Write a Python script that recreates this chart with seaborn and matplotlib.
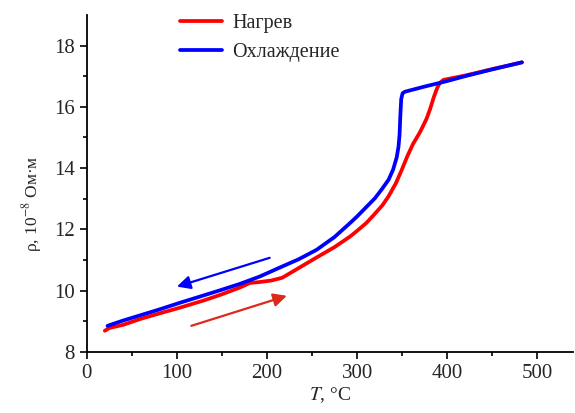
import pandas as pd
import matplotlib
matplotlib.use("Agg")
import matplotlib.pyplot as plt
import seaborn as sns

# heating curve (red)
heat_T = [20, 25, 40, 60, 80, 103, 130, 150, 170, 181, 192, 205, 217, 236, 255, 275,
          292, 300, 310, 318, 328, 335, 343, 349, 356, 362, 370, 377, 381, 385, 389,
          392, 396, 420, 450, 483]
heat_rho = [8.69, 8.78, 8.88, 9.08, 9.25, 9.44, 9.68, 9.88, 10.1, 10.25, 10.28, 10.33,
            10.42, 10.75, 11.08, 11.42, 11.76, 11.95, 12.2, 12.45, 12.78, 13.08, 13.5,
            13.9, 14.4, 14.78, 15.18, 15.6, 15.92, 16.3, 16.62, 16.78, 16.88, 17.02,
            17.23, 17.45]

# cooling curve (blue), from hot to cold
cool_T = [483, 450, 420, 400, 375, 353, 350.5, 349, 348, 347.2, 346, 344, 340, 335,
          328, 320, 310, 300, 292, 275, 255, 235, 214, 192, 170, 150, 125, 103, 80,
          60, 40, 23]
cool_rho = [17.45, 17.22, 17.0, 16.84, 16.66, 16.49, 16.44, 16.25, 15.7, 15.1, 14.7,
            14.35, 13.95, 13.62, 13.33, 13.02, 12.72, 12.42, 12.2, 11.75, 11.33, 11.02,
            10.75, 10.46, 10.22, 10.03, 9.8, 9.6, 9.38, 9.2, 9.02, 8.85]

# direction arrows: (start, tip)
heat_arrow = [(116, 8.85), (222, 9.83)]
cool_arrow = [(203, 11.07), (100, 10.13)]

labels = ["Нагрев", "Охлаждение"]
colors = ["#ff0000", "#0000ff"]

df = pd.concat([
    pd.DataFrame({"T": heat_T, "rho": heat_rho, "mode": labels[0]}),
    pd.DataFrame({"T": cool_T, "rho": cool_rho, "mode": labels[1]}),
], ignore_index=True)

sns.set_style("ticks")
plt.rcParams["font.family"] = ["Liberation Serif", "DejaVu Serif"]
plt.rcParams["mathtext.fontset"] = "stix"

fig = plt.figure(figsize=(5.75, 4.13), dpi=100)
ax = fig.add_axes([0.151, 0.148, 0.846, 0.816])

sns.lineplot(data=df, x="T", y="rho", hue="mode", palette=colors, sort=False,
             estimator=None, linewidth=2.7, ax=ax)
for line in ax.lines:
    line.set_solid_joinstyle("round")
    line.set_solid_capstyle("round")

ax.annotate("", xy=heat_arrow[1], xytext=heat_arrow[0],
            arrowprops=dict(arrowstyle="-|>", color="#dd2a1b", lw=1.6,
                            mutation_scale=20, shrinkA=0, shrinkB=0))
ax.annotate("", xy=cool_arrow[1], xytext=cool_arrow[0],
            arrowprops=dict(arrowstyle="-|>", color="#0000ff", lw=1.6,
                            mutation_scale=20, shrinkA=0, shrinkB=0))

ax.set_xlim(0, 540)
ax.set_ylim(8, 19)
ax.set_xticks([0, 100, 200, 300, 400, 500])
ax.set_xticks([50, 150, 250, 350, 450], minor=True)
ax.set_yticks([8, 10, 12, 14, 16, 18])
ax.set_yticks([9, 11, 13, 15, 17], minor=True)
ax.tick_params(which="major", length=5, width=1.2, labelsize=15, color="black")
ax.tick_params(which="minor", length=3, width=1.2, color="black")
for s in ["left", "bottom"]:
    ax.spines[s].set_linewidth(1.3)
    ax.spines[s].set_color("black")
sns.despine(ax=ax)

ax.set_xlabel("$T$, °C", fontsize=14, labelpad=2)
ax.set_ylabel("ρ, 10$^{-8}$ Ом·м", fontsize=12.5)
ax.yaxis.set_label_coords(-0.088, 0.44)

ax.legend(loc="upper left", bbox_to_anchor=(180 / 575, 1 - 14 / 413),
          bbox_transform=fig.transFigure, frameon=False, fontsize=14.5,
          handlelength=2.1, handletextpad=0.5, labelspacing=0.5, borderpad=0,
          borderaxespad=0, title=None)

fig.savefig("out.png", dpi=100)
